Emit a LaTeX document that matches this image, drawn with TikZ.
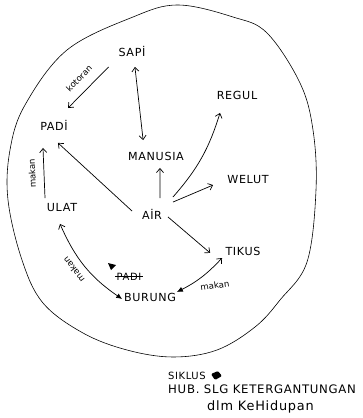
\documentclass[tikz,border=0pt]{standalone}
\usepackage{fontspec}
\setmainfont{DejaVu Sans}
\newfontfamily\hand[LetterSpace=6]{DejaVu Sans}
\usepackage{tikz}
\usetikzlibrary{arrows.meta,positioning}

\begin{document}
\begin{tikzpicture}[x=0.03cm, y=0.03cm,
  item/.style={inner sep=1pt, font=\hand\fontsize{9.5}{11}\selectfont},
  lbl/.style={inner sep=1pt, font=\fontsize{7.3}{8}\selectfont},
  note/.style={inner sep=0pt, anchor=west, font=\hand\fontsize{10}{12}\selectfont},
  arrow/.style={-{Straight Barb[length=3.5pt,width=6pt]}, line width=0.6pt},
  both/.style={{Straight Barb[length=3.5pt,width=6pt]}-{Straight Barb[length=3.5pt,width=6pt]}, line width=0.6pt},
  duo/.style={{Latex[length=5pt,width=4.5pt]}-{Straight Barb[length=3.5pt,width=6pt]}, line width=0.6pt}
]
\useasboundingbox (0,0) rectangle (362,-418);

% Outer boundary
\draw[line width=0.5pt] plot[smooth cycle, tension=0.6] coordinates {(178,-5) (233,-17) (267,-33) (300,-83) (313,-130) (316,-190) (307,-262) (280,-300) (255,-327) (217,-350) (173,-357) (127,-350) (83,-333) (43,-303) (22,-260) (8,-200) (10,-150) (25,-105) (67,-50) (133,-17)};

% Nodes
\node[item] (sapi) at (132,-51) {SAPİ};
\node[item] (padi) at (54,-125) {PADİ};
\node[item] (regul) at (237,-95) {REGUL};
\node[item] (manusia) at (156,-156) {MANUSIA};
\node[item] (welut) at (248,-180) {WELUT};
\node[item] (air) at (152,-214) {AİR};
\node[item] (ulat) at (62,-208) {ULAT};
\node[item] (tikus) at (243,-251) {TIKUS};
\node[item] (burung) at (150,-297) {BURUNG};
\node[item, font=\hand\fontsize{8.5}{10}\selectfont] (padicoret) at (129,-277) {PADI};
\draw[line width=0.6pt] ([yshift=0.5pt]padicoret.west) -- ([yshift=0.5pt]padicoret.east);
\fill (108,-263) -- (116,-265) -- (111,-270) -- cycle;

% Connectors
\draw[arrow] ([xshift=-20pt,yshift=-13.6pt]sapi.center) -- node[lbl, sloped, above=7pt] {kotoran} ([xshift=12pt,yshift=14.5pt]padi.center);
\draw[both] ([xshift=2.5pt,yshift=-13.6pt]sapi.center) -- ([xshift=-11pt,yshift=13.6pt]manusia.center);
\draw[arrow] ([xshift=-17pt,yshift=2.5pt]air.center) -- ([xshift=3.4pt,yshift=-15.3pt]padi.center);
\draw[arrow] ([xshift=6.8pt,yshift=13.6pt]air.center) -- ([xshift=3.4pt,yshift=-10.2pt]manusia.center);
\draw[arrow] ([xshift=17.9pt,yshift=14.5pt]air.center) to[bend right=12] ([xshift=-14.5pt,yshift=-15.3pt]regul.center);
\draw[arrow] ([xshift=17.9pt,yshift=10.2pt]air.center) -- ([xshift=-29.8pt,yshift=-4.3pt]welut.center);
\draw[arrow] ([xshift=13.6pt,yshift=-2.5pt]air.center) -- ([xshift=-28pt,yshift=-1.7pt]tikus.center);
\draw[arrow] ([xshift=-14.5pt,yshift=8.5pt]ulat.center) -- node[lbl, sloped, allow upside down, above=6pt] {makan} ([xshift=-9.4pt,yshift=-19.6pt]padi.center);
\draw[duo] ([xshift=-23.8pt,yshift=-1.7pt]burung.center) to[bend left=16] node[lbl, pos=0.55, sloped, allow upside down, above=5pt] {makan} ([xshift=-1.7pt,yshift=-13.6pt]ulat.center);
\draw[duo] ([xshift=23pt,yshift=4.3pt]burung.center) to[bend right=10] node[lbl, midway, anchor=north west, xshift=-2.5pt, yshift=-5pt, rotate=8] {makan} ([xshift=-17.9pt,yshift=-6pt]tikus.center);

% Caption
\node[note, font=\hand\fontsize{8.5}{10}\selectfont] (siklus) at (168,-376) {SIKLUS};
\fill[rounded corners=1pt] (211,-374) -- (218,-371) -- (222,-376) -- (215,-380) -- cycle;
\node[note] (hub) at (168,-389) {HUB. SLG KETERGANTUNGAN};
\node[note, font=\hand\fontsize{11}{13}\selectfont] (dlm) at (207,-407) {dlm KeHidupan};

\end{tikzpicture}
\end{document}
